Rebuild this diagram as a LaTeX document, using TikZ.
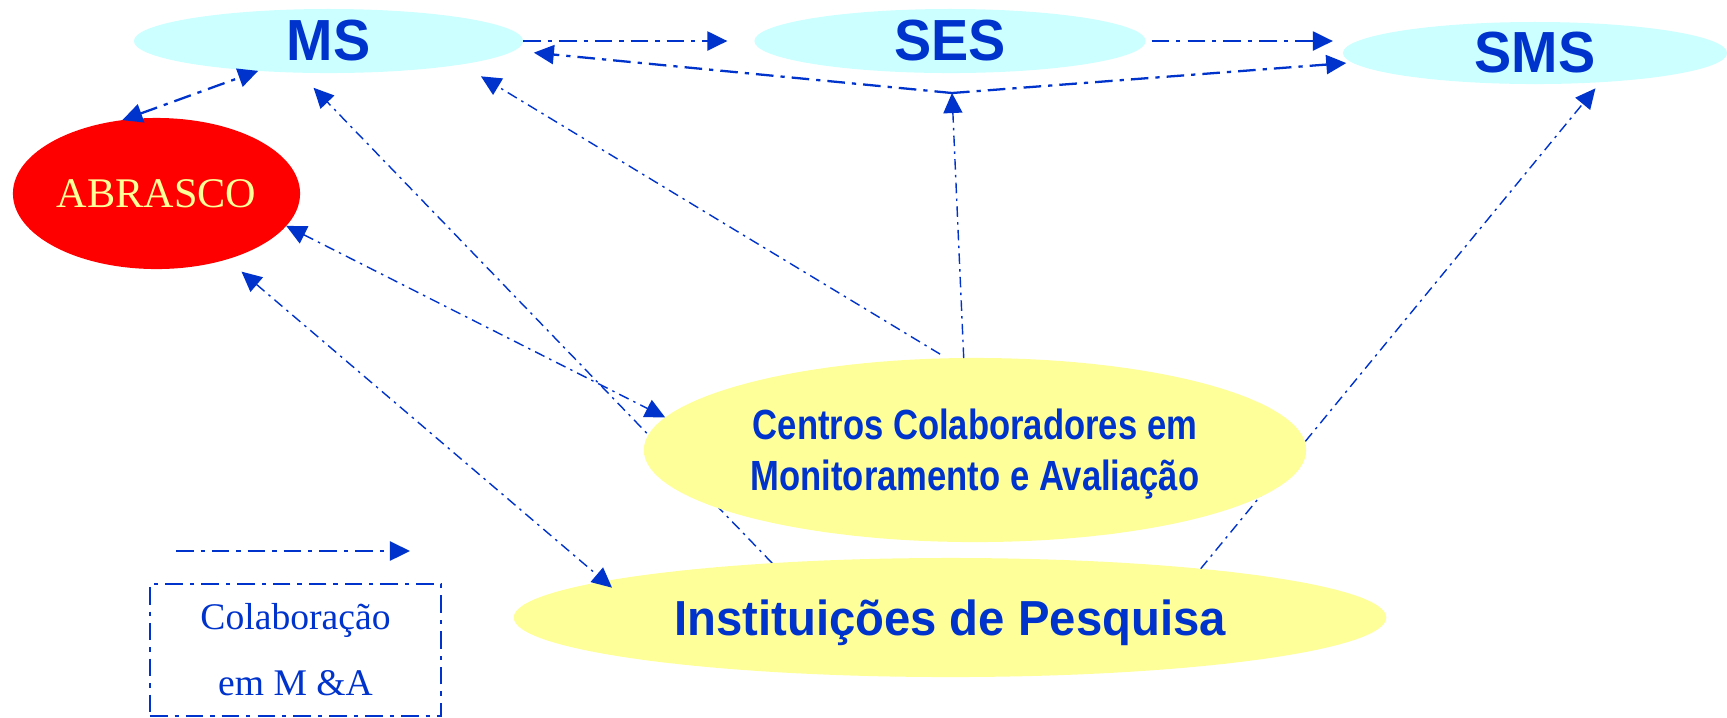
\documentclass[tikz,border=0pt]{standalone}
\usepackage{fontspec}
\newfontfamily\headfont[FakeStretch=0.96]{Liberation Sans}
\newfontfamily\narrowfont[FakeStretch=0.82]{Liberation Sans}
\newfontfamily\romanfont{Liberation Serif}
\usetikzlibrary{arrows.meta}
\usetikzlibrary{shapes.geometric}
\usetikzlibrary{backgrounds}
\definecolor{sky}{HTML}{CCFFFF}
\definecolor{straw}{HTML}{FFFF99}
\definecolor{ink}{HTML}{0033CC}
\definecolor{alarm}{HTML}{FF0000}
\tikzset {
  % dash-dot connector, one head
  link/.style = {
    draw = ink,
    line width = 0.4pt,
    dash pattern = on 3pt off 1.5pt on 0.7pt off 1.5pt,
    -{Triangle[length=0.2cm,width=0.19cm]}
  },
  % connector with a head at both ends
  links/.style = {
    link,
    {Triangle[length=0.2cm,width=0.19cm]}-{Triangle[length=0.2cm,width=0.19cm]}
  },
  heavy/.style = {
    line width = 0.65pt,
    dash pattern = on 5pt off 2pt on 1.2pt off 2pt
  }
}
\tikzset {
  org/.style = {
    ellipse,
    inner sep = 0,
    outer sep = 0,
    text = ink,
    align = center
  },
  % government level
  ministry/.style = {
    org,
    fill = sky,
    font = \headfont\bfseries\fontsize{16.5}{19}\selectfont
  },
  % research side
  research/.style = {
    org,
    fill = straw,
    text depth = 0pt
  }
}

\begin{document}
\begin{tikzpicture}[x=0.01cm, y=-0.01cm]
    \useasboundingbox (0,0) rectangle (1727,717);
    \node[ministry, minimum width=3.89cm, minimum height=0.64cm] (ms) at (328.5,41) {MS};
    \node[ministry, minimum width=3.91cm, minimum height=0.64cm] (ses) at (950,41) {SES};
    \node[ministry, minimum width=3.84cm, minimum height=0.62cm] (sms) at (1535,53) {SMS};
    \node[org, fill=alarm, text=straw, minimum width=2.87cm, minimum height=1.51cm,
      font=\romanfont\fontsize{12}{14}\selectfont] (abrasco) at (156.5,193.5) {ABRASCO};
    \node[research, minimum width=6.62cm, minimum height=1.84cm,
      font=\narrowfont\bfseries\fontsize{12}{14.5}\selectfont] (centros) at (975,450)
      {Centros Colaboradores em\\Monitoramento e Avaliação};
    \node[research, minimum width=8.72cm, minimum height=1.19cm,
      font=\headfont\bfseries\fontsize{14}{17}\selectfont] (inst) at (950,617.5)
      {Instituições de Pesquisa};
    \coordinate (hub) at (952,93);

    \draw[links, heavy] (abrasco.115) -- (ms.203);
    \draw[link, heavy, shorten >=0.27cm] (ms.east) -- (ses.west);
    \draw[link, heavy, shorten <=0.06cm, shorten >=0.1cm] (ses.east) -- (ses.east -| sms.west);
    \draw[link] (centros.97) -- (hub);
    \draw[link, heavy, shorten >=0.2cm] (hub) -- (ms.-3);
    \draw[link, heavy, shorten >=0.06cm] (hub) -- (sms.183);
    \draw[link, shorten <=0.08cm, shorten >=0.23cm] (centros.107) -- (ms.-10);
    \draw[links] (abrasco.-14) -- (centros.174);
    \draw[links, shorten <=0.19cm, shorten >=-0.1cm] (abrasco.-43) -- (inst.174);
    \begin{scope}[on background layer]
      \draw[link, shorten >=0.21cm] (inst.163) -- (ms.227);
      \draw[link, shorten >=0.08cm] (inst.11) -- (sms.-24);
    \end{scope}

    % key
    \coordinate (key start) at (176,551);
    \coordinate (key end) at (410,551);
    \draw[link, heavy] (key start) -- (key end);
    \node[draw=ink, heavy, minimum width=2.91cm, minimum height=1.32cm, text=ink,
      align=center, font=\romanfont\fontsize{10.7}{18.8}\selectfont] (key) at (295.5,650)
      {Colaboração\\em M \&A};
\end{tikzpicture}
\end{document}
